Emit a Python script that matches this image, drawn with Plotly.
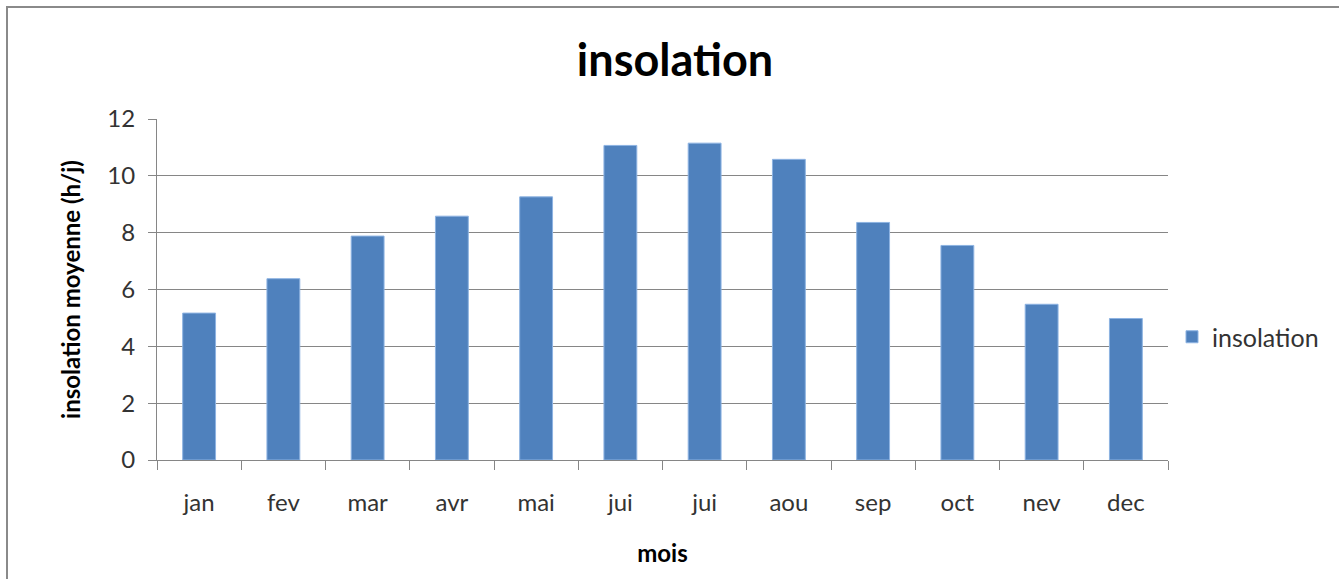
import plotly.graph_objects as go

# Monthly mean sunshine duration (hours per day)
months = ["jan", "fev", "mar", "avr", "mai", "jui", "jui", "aou", "sep", "oct", "nev", "dec"]
insolation = [5.17, 6.38, 7.88, 8.58, 9.26, 11.07, 11.15, 10.58, 8.36, 7.55, 5.48, 4.98]
y_ticks = [0, 2, 4, 6, 8, 10, 12]

W, H = 1339, 579
L, R, T, B = 157, 171, 119, 119
pw, ph = W - L - R, H - T - B

def px_x(p):
    return (p - L) / pw

def px_y(p):
    return (H - B - p) / ph

positions = list(range(len(months)))
font = "Lato, 'Open Sans', sans-serif"
grid = "#868686"

fig = go.Figure()
fig.add_trace(go.Bar(
    x=positions,
    y=insolation,
    name="insolation",
    marker=dict(color="#4F81BD", line=dict(color="#8DB3E2", width=1)),
    width=0.39,
))

fig.update_layout(
    width=W, height=H,
    margin=dict(l=L, r=R, t=T, b=B),
    paper_bgcolor="white",
    plot_bgcolor="white",
    font=dict(family=font, color="#333333"),
    title=dict(
        text="<b>insolation</b>",
        x=px_x(675), xanchor="center", xref="paper",
        y=1 - 60 / H, yanchor="middle",
        font=dict(size=45, color="black", family=font),
    ),
    showlegend=True,
    legend=dict(
        x=px_x(1172), xanchor="left",
        y=px_y(337), yanchor="middle",
        font=dict(size=25, color="#333333"),
        bgcolor="rgba(0,0,0,0)",
        itemwidth=30,
    ),
    bargap=0.61,
)

fig.update_xaxes(
    range=[-0.5, len(months) - 0.5],
    tickmode="array",
    tickvals=positions,
    ticktext=months,
    ticks="",
    ticklabelstandoff=21,
    tickfont=dict(size=24, color="#333333"),
    showgrid=False,
    showline=True, linecolor=grid, linewidth=1,
    zeroline=False,
    minor=dict(
        tickmode="array",
        tickvals=[i - 0.5 for i in range(len(months) + 1)],
        ticks="outside", ticklen=9, tickcolor=grid, tickwidth=1,
        showgrid=False,
    ),
    title=dict(text="<b>mois</b>", font=dict(size=24, color="black"), standoff=30),
)

fig.update_yaxes(
    range=[0, 12],
    tickmode="array",
    tickvals=y_ticks,
    ticks="outside", ticklen=8, tickcolor=grid,
    ticklabelstandoff=8,
    tickfont=dict(size=24, color="#333333"),
    showgrid=True, gridcolor=grid, gridwidth=1,
    showline=True, linecolor=grid, linewidth=1,
    zeroline=False,
    title=dict(text="<b>insolation moyenne (h/j)</b>", font=dict(size=24, color="black"), standoff=19),
)

# Outer chart frame: left and top edges drawn as thin filled strips
frame_color = "#8A8A8A"
fig.add_shape(type="rect", xref="paper", yref="paper",
              x0=px_x(6), x1=px_x(8), y0=px_y(H + 20), y1=px_y(6),
              fillcolor=frame_color, line=dict(width=0), layer="below")
fig.add_shape(type="rect", xref="paper", yref="paper",
              x0=px_x(6), x1=px_x(W + 60), y0=px_y(8), y1=px_y(6),
              fillcolor=frame_color, line=dict(width=0), layer="below")

fig.write_html("out.html")
